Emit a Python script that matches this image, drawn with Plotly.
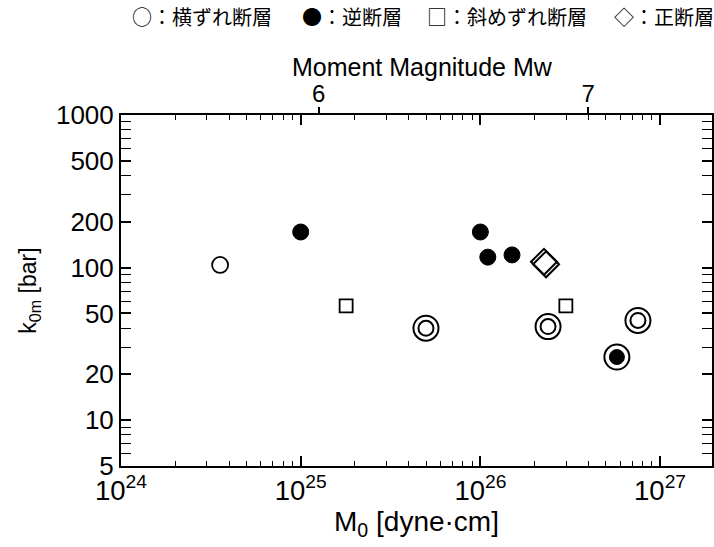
import plotly.graph_objects as go

# ---- data ----
strike_x = [3.56e24]            # ○ 横ずれ断層
strike_y = [104]
reverse_x = [1.0e25, 1.0e26, 1.10e26, 1.50e26]   # ● 逆断層
reverse_y = [171, 171, 117, 121]
oblique_x = [1.79e25, 2.99e26]  # □ 斜めずれ断層
oblique_y = [56, 56]
normal_x = [2.26e26, 2.32e26]   # ◇ 正断層
normal_y = [109, 105]
ring_x = [4.98e25, 2.38e26, 7.53e26]   # ◎
ring_y = [40, 41, 45]
fring_x = [5.75e26]             # filled with ring
fring_y = [25.9]

y_ticks = [5, 10, 20, 50, 100, 200, 500, 1000]
mw_ticks = [6, 7]
legend_items = ["○：横ずれ断層", "●：逆断層", "□：斜めずれ断層", "◇：正断層"]

W, H = 714, 547
L, R, T, B = 121, 2, 115, 81
logx_min, logx_max = 24.0, 27.289


def mw(logm0):
    return (logm0 - 16.1) / 1.5


fig = go.Figure()
BLK = "black"

def add(xs, ys, symbol, size, fill, lw=1.8):
    fig.add_trace(go.Scatter(
        x=xs, y=ys, mode="markers", showlegend=False, hoverinfo="skip",
        marker=dict(symbol=symbol, size=size, color=fill,
                    line=dict(color=BLK, width=lw))))

add(strike_x, strike_y, "circle", 16, "white")
add(reverse_x, reverse_y, "circle", 16, BLK, 1)
add(oblique_x, oblique_y, "square", 13, "white")
add(normal_x, normal_y, "diamond", 20, "rgba(0,0,0,0)", 2)
add(ring_x, ring_y, "circle", 25, "white", 2)
add(ring_x, ring_y, "circle", 15, "white", 2)
add(fring_x, fring_y, "circle", 25, "white", 2)
add(fring_x, fring_y, "circle", 15, BLK, 1)

# invisible trace on the top axis
fig.add_trace(go.Scatter(x=[mw(logx_min)], y=[5], xaxis="x2", mode="markers",
                         marker=dict(opacity=0), showlegend=False, hoverinfo="skip"))

font = "Liberation Sans, Arial, sans-serif"
pw = W - L - R
ph = H - T - B

fig.update_layout(
    width=W, height=H, showlegend=False,
    margin=dict(l=L, r=R, t=T, b=B),
    paper_bgcolor="white", plot_bgcolor="white",
    font=dict(family=font, color=BLK),
    xaxis=dict(
        type="log", range=[logx_min, logx_max], automargin=False,
        dtick=1, exponentformat="power", showexponent="all",
        ticks="inside", ticklen=10, tickwidth=1.5, tickcolor=BLK,
        minor=dict(dtick="D1", ticks="inside", ticklen=5, tickwidth=1.2, tickcolor=BLK, showgrid=False),
        showline=True, linecolor=BLK, linewidth=2, mirror="allticks",
        showgrid=False, zeroline=False,
        tickfont=dict(size=22, family=font),
        title=dict(text="M<sub>0</sub> [dyne·cm]", font=dict(size=28, family=font), standoff=4),
    ),
    xaxis2=dict(
        overlaying="x", side="top", range=[mw(logx_min), mw(logx_max)], automargin=False,
        tickvals=mw_ticks, ticks="outside", ticklen=7, tickwidth=1.5, tickcolor=BLK,
        showgrid=False, zeroline=False, showline=False,
        tickfont=dict(size=24, family=font), ticklabelstandoff=-5,
    ),
    yaxis=dict(
        type="log", range=[0.69897, 3.0], automargin=False,
        tickvals=y_ticks, ticktext=[str(v) for v in y_ticks],
        ticks="inside", ticklen=10, tickwidth=1.5, tickcolor=BLK,
        minor=dict(dtick="D1", ticks="inside", ticklen=5, tickwidth=1.2, tickcolor=BLK, showgrid=False),
        showline=True, linecolor=BLK, linewidth=2, mirror="allticks",
        showgrid=False, zeroline=False,
        tickfont=dict(size=26, family=font),
        title=dict(text="k<sub>0m</sub> [bar]", font=dict(size=23, family=font), standoff=13),
    ),
)

# top axis title
fig.add_annotation(text="Moment Magnitude Mw", xref="paper", yref="paper",
                   x=(422 - L) / pw, y=1 + (T - 67) / ph,
                   xanchor="center", yanchor="middle", showarrow=False,
                   font=dict(size=25, family=font, color=BLK))

# legend line at top as text
legend_px = [130, 300, 425, 612]
for txt, px in zip(legend_items, legend_px):
    fig.add_annotation(text=txt, xref="paper", yref="paper",
                       x=(px - L) / pw, y=1 + (T - 17) / ph,
                       xanchor="left", yanchor="middle", showarrow=False,
                       font=dict(size=20, family="Noto Sans CJK JP", color=BLK))

fig.write_html("out.html", config={"displayModeBar": False},
               post_script="document.body.style.margin='0';")
